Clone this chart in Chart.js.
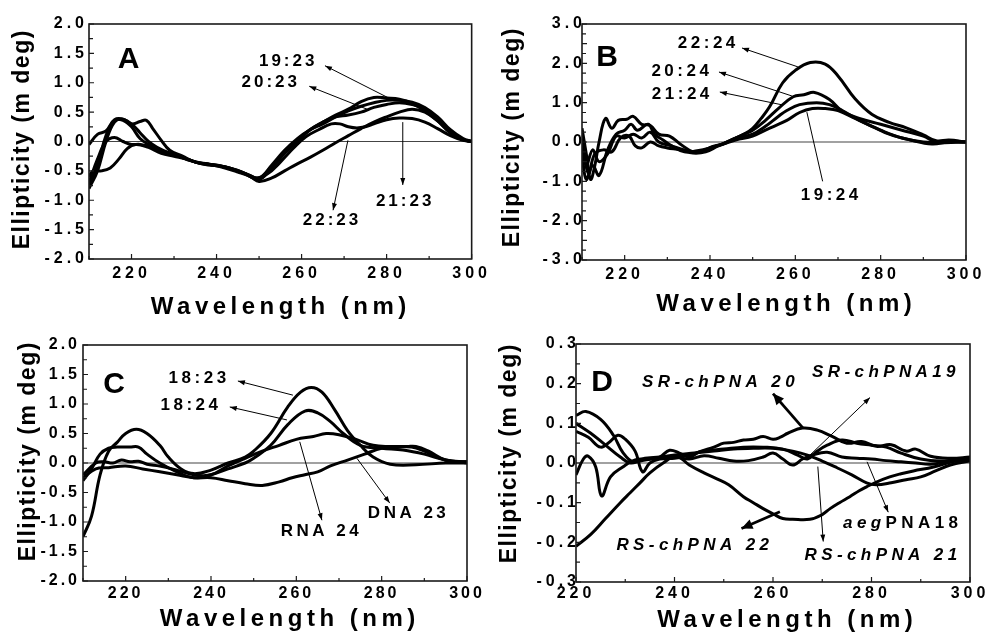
<!DOCTYPE html>
<html>
<head>
<meta charset="utf-8">
<script src="https://cdn.jsdelivr.net/npm/chart.js@4.4.0/dist/chart.umd.min.js"></script>
<style>
  body { margin: 0; background: #fff; width: 987px; height: 633px; position: relative; overflow: hidden; }
  canvas { position: absolute; }
</style>
</head>
<body>
<canvas id="chartA" width="490" height="324" style="left:0;top:0"></canvas>
<canvas id="chartB" width="497" height="324" style="left:490px;top:0"></canvas>
<canvas id="chartC" width="490" height="315" style="left:0;top:318px"></canvas>
<canvas id="chartD" width="497" height="315" style="left:490px;top:318px"></canvas>
<script>
const FONT = "'Liberation Sans', Arial, Helvetica, sans-serif";

// ---- panel A : x:23 duplexes ----
const wlA1 = [210,212,214,216,218,220,222,223.5,225,227,229,232,235,238,241,244,247,250,253,256,259,262,265,268,271,274,277,280,283,286,289,292,295,298,300];
const cdA1 = [-0.8,-0.5,0.0,0.33,0.38,0.3,0.34,0.36,0.22,0.02,-0.15,-0.25,-0.35,-0.38,-0.42,-0.48,-0.56,-0.65,-0.45,-0.2,0.03,0.2,0.33,0.45,0.55,0.68,0.75,0.74,0.72,0.65,0.52,0.35,0.15,0.03,0];
const wlA2 = [210,212,214,216,218,220,222,224,226,229,232,235,238,241,244,247,250,253,256,259,262,265,268,271,274,277,280,283,286,289,292,295,298,300];
const cdA2 = [-0.05,0.12,0.18,0.37,0.38,0.3,0.15,0.0,-0.1,-0.2,-0.27,-0.35,-0.4,-0.42,-0.47,-0.55,-0.62,-0.42,-0.2,0.0,0.2,0.33,0.42,0.45,0.5,0.58,0.63,0.66,0.63,0.55,0.38,0.15,0.03,0];
const wlA3 = [210,212,214,216,218,220,222,225,228,231,234,237,240,243,246,249,252,255,258,261,264,267,269,271,273,275,277,280,283,286,289,292,295,298,300];
const cdA3 = [-0.7,-0.3,0.0,0.07,0.0,-0.05,-0.05,-0.1,-0.2,-0.25,-0.33,-0.38,-0.4,-0.45,-0.52,-0.62,-0.55,-0.35,-0.12,0.08,0.2,0.3,0.3,0.25,0.23,0.25,0.3,0.37,0.4,0.39,0.33,0.22,0.1,0.02,0];
const wlA4 = [210,211,213,215,217,219,221,224,227,230,233,236,239,242,245,248,250,253,256,259,262,265,268,271,274,277,280,283,286,289,292,295,298,300];
const cdA4 = [-0.6,-0.5,-0.5,-0.45,-0.3,-0.12,-0.05,-0.1,-0.2,-0.25,-0.3,-0.37,-0.4,-0.45,-0.52,-0.6,-0.68,-0.62,-0.5,-0.38,-0.27,-0.15,-0.02,0.1,0.22,0.33,0.42,0.5,0.55,0.5,0.35,0.15,0.03,0];
const wlA5 = [210,212,214,216,218,220,222,224,227,230,233,236,239,242,245,248,250,253,256,259,262,265,268,271,274,277,280,283,286,289,292,295,298,300];
const cdA5 = [-0.75,-0.4,0.1,0.36,0.36,0.25,0.05,-0.05,-0.15,-0.22,-0.3,-0.36,-0.4,-0.43,-0.5,-0.58,-0.63,-0.4,-0.15,0.05,0.2,0.3,0.42,0.52,0.6,0.66,0.7,0.7,0.67,0.58,0.42,0.2,0.05,0];

// ---- panel B : x:24 duplexes ----
const wlB1 = [210,211,212,213,214,215.5,217,218.5,220.5,222,224,226,228,230.5,233,236,238,240.5,243,245,248,250,252,254,257,260,263.5,267,270,274,278,282,286,290,293,296,300];
const cdB1 = [0.35,-0.3,-0.95,-0.6,0.0,0.6,0.35,0.55,0.58,0.65,0.45,0.42,0.2,0.15,-0.05,-0.25,-0.25,-0.12,-0.05,0.05,0.2,0.35,0.6,0.9,1.5,1.82,2.02,1.98,1.68,1.1,0.7,0.5,0.36,0.18,0.03,0.05,0];
const wlB2 = [210,211,212.5,214,216,218,220,221.5,223,225.5,227,229,231,234,237,240,243,245,248,250,253,256,259.5,262,264.5,268,271,275,280,285,290,293,296,300];
const cdB2 = [-0.3,-0.95,-0.6,-0.85,-0.2,0.2,0.3,0.45,0.3,0.45,0.2,0.05,-0.1,-0.25,-0.22,-0.15,-0.05,0.05,0.2,0.3,0.55,0.85,1.15,1.2,1.26,1.08,0.78,0.6,0.45,0.3,0.15,0.0,0.03,0];
const wlB3 = [210,211,212.5,214,216,218,220,222,224,226,228,231,234,237,240,243,246,250,253,256,258,261,265,268,271,275,280,285,290,295,300];
const cdB3 = [0.0,-0.6,-0.2,-0.5,-0.3,0.15,0.1,0.2,0.1,0.25,0.0,-0.1,-0.2,-0.25,-0.15,-0.05,0.1,0.2,0.4,0.65,0.8,0.95,1.0,0.95,0.8,0.55,0.3,0.1,0.0,-0.02,0];
const wlB4 = [210,211.5,213,215,217,219,221,222.5,224,226,228,230,233,236,239,242,246,250,253,255,258,261,264,267,270,274,278,282,287,292,296,300];
const cdB4 = [0.1,-0.8,-0.3,-0.2,-0.25,0.1,0.15,-0.1,-0.15,0.0,-0.1,-0.15,-0.2,-0.28,-0.25,-0.1,0.05,0.15,0.3,0.4,0.55,0.75,0.85,0.85,0.8,0.6,0.4,0.2,0.05,-0.05,0.0,0];

// ---- panel C : 18-mer and DNA/RNA ----
const wlC1 = [210,212,214,216,218,220,222.5,225,228,230,233,236,240,244,248,250,254,258,261,263.5,266,269,272,275,278,282,288,295,300];
const cdC1 = [-1.25,-0.9,-0.2,0.2,0.35,0.5,0.57,0.5,0.3,0.1,-0.1,-0.18,-0.12,0.0,0.1,0.2,0.5,0.95,1.2,1.28,1.2,0.9,0.55,0.3,0.1,-0.02,-0.03,0.0,0];
const wlC2 = [210,212,214,216,218,221,223,225,228,232,236,240,244,248,250,254,258,262,265,268,271,275,280,285,290,295,300];
const cdC2 = [-0.3,-0.1,0.15,0.25,0.27,0.27,0.27,0.15,0.0,-0.15,-0.25,-0.2,-0.1,0.0,0.08,0.3,0.65,0.88,0.85,0.7,0.5,0.3,0.25,0.22,0.15,0.05,0];
const wlC3 = [210,213,215,217,219,221,223,225,228,232,236,240,244,248,252,256,260,264,267,270,274,278,282,286,288,291,295,300];
const cdC3 = [-0.2,0.0,0.02,0.0,0.05,0.02,0.03,-0.02,-0.05,-0.12,-0.2,-0.2,-0.05,0.08,0.2,0.3,0.4,0.45,0.5,0.48,0.4,0.3,0.28,0.28,0.28,0.2,0.05,0.02];
const wlC4 = [210,213,216,220,224,228,232,236,240,244,248,252,256,259,262,265,268,272,276,280,284,287,290,293,296,300];
const cdC4 = [-0.25,-0.1,-0.08,-0.05,-0.1,-0.15,-0.2,-0.25,-0.25,-0.3,-0.35,-0.38,-0.32,-0.25,-0.2,-0.15,-0.05,0.05,0.15,0.25,0.27,0.27,0.2,0.1,0.03,0.02];

// ---- panel D : chiral PNAs ----
const wlD1 = [220,221.5,222.5,224,225.2,227,229.5,232,235,237,239,241,243,245,248,250,252,254,256,258,260,261.5,263,266,269,272,275,278,281,284,287,289,292,296,300];
const cdD1 = [-0.03,0.01,0.017,-0.01,-0.083,-0.035,-0.01,0.008,0.01,0.015,0.032,0.025,0.015,0.028,0.04,0.05,0.052,0.058,0.06,0.067,0.06,0.065,0.075,0.088,0.083,0.067,0.05,0.054,0.042,0.046,0.03,0.035,0.017,0.012,0.015];
const wlD2 = [220,222.5,225,227,228.5,230,232,233.5,235,237,240,243,246,250,254,258,262,265,267,269,271,274,277,280,283,286,290,294,300];
const cdD2 = [0.08,0.065,0.04,0.055,0.07,0.06,0.03,-0.022,0.0,0.01,0.012,0.02,0.03,0.035,0.04,0.04,0.035,0.02,0.01,0.03,0.045,0.058,0.05,0.045,0.04,0.025,0.01,0.005,0.012];
const wlD3 = [220,222,225,227.6,229.6,231.6,234,237,240,243,246,249,252,255,258,260,262,264,266,268,271,274,277,280,283,286,289,292,296,300];
const cdD3 = [0.12,0.13,0.11,0.07,0.025,0.003,0.012,0.015,0.015,0.01,0.018,0.012,0.005,0.006,0.015,0.025,0.01,-0.005,0.01,0.02,0.027,0.015,0.012,0.01,0.006,0.003,0.0,-0.003,0.004,0.008];
const wlD4 = [220,223,226,229,231,233,235,237.7,240.4,243,246,248.6,251,254,256,258,260,262,264,267.5,270,271.6,273.5,275.6,277.5,279,281,283.7,286,288.5,292.6,297,300];
const cdD4 = [-0.21,-0.18,-0.14,-0.1,-0.075,-0.05,-0.025,0.0,0.017,-0.005,-0.025,-0.04,-0.055,-0.085,-0.1,-0.115,-0.128,-0.14,-0.142,-0.142,-0.13,-0.115,-0.1,-0.085,-0.07,-0.06,-0.048,-0.035,-0.027,-0.02,-0.01,0.005,0.01];
const wlD5 = [220,223,226,229,231,233,236,240,244,248,252,256,260,264,267,270,273,276,279,281,284,287,290,293,296,300];
const cdD5 = [0.1,0.075,0.045,0.015,0.0,0.005,0.012,0.02,0.025,0.03,0.035,0.037,0.037,0.03,0.02,0.005,-0.012,-0.03,-0.05,-0.055,-0.05,-0.042,-0.035,-0.02,-0.005,0.005];

// labels with leader arrows (data coordinates); the arrow head sits at "from"
const notesA = [
  { text: 'A', x: 219.3, y: 1.4, size: 30, ls: 0 },
  { text: '19:23', x: 256.5, y: 1.37, from: [265.5, 1.29], to: [280.5, 0.74] },
  { text: '20:23', x: 252.4, y: 1.0, from: [261.8, 0.94], to: [275.4, 0.55] },
  { text: '22:23', x: 266.8, y: -1.34, from: [267.4, -1.17], to: [270.9, 0.02] },
  { text: '21:23', x: 284, y: -1.02, from: [283.8, -0.74], to: [283.8, 0.33] }
];
const notesB = [
  { text: 'B', x: 215.9, y: 2.14, size: 30, ls: 0 },
  { text: '22:24', x: 239.2, y: 2.5, from: [247.5, 2.39], to: [260.6, 1.91] },
  { text: '20:24', x: 233, y: 1.79, from: [242.1, 1.78], to: [259.2, 1.17] },
  { text: '21:24', x: 233.1, y: 1.22, from: [242.3, 1.27], to: [257.1, 0.94] },
  { text: '19:24', x: 268, y: -1.35, from: [266.4, -1.0], to: [262.7, 0.76], head: false }
];
const notesC = [
  { text: 'C', x: 217.3, y: 1.32, size: 30, ls: 0 },
  { text: '18:23', x: 236.8, y: 1.43, from: [246.3, 1.39], to: [259.2, 1.15] },
  { text: '18:24', x: 234.9, y: 0.97, from: [244.4, 0.95], to: [257.8, 0.73] },
  { text: 'DNA 23', x: 285.9, y: -0.86, from: [281.9, -0.68], to: [274.2, 0.08] },
  { text: 'RNA 24', x: 265.5, y: -1.16, from: [266, -0.97], to: [260.8, 0.36] }
];
const notesD = [
  { text: 'D', x: 225.3, y: 0.203, size: 30, ls: 0, upright: true },
  { text: 'SR-chPNA 20', x: 248.9, y: 0.203, from: [260, 0.175], to: [266.1, 0.088], thick: true },
  { text: 'SR-chPNA19', x: 282.5, y: 0.228, from: [279.7, 0.165], to: [267.1, 0.015] },
  { parts: [['aeg', true], ['PNA18', false]], x: 285.9, y: -0.152, from: [283.4, -0.124], to: [279.1, 0.003] },
  { text: 'RS-chPNA 22', x: 243.7, y: -0.207, from: [253.6, -0.165], to: [261.4, -0.123], thick: true },
  { text: 'RS-chPNA 21', x: 281.9, y: -0.232, from: [270.2, -0.198], to: [269.1, -0.009] }
];

const panels = [
  { id: 'chartA', xMin: 210, xMax: 300, yMin: -2, yMax: 2, yStep: 0.5,
    series: [[wlA1, cdA1], [wlA2, cdA2], [wlA3, cdA3], [wlA4, cdA4], [wlA5, cdA5]], notes: notesA,
    box: { left: 89, top: 24, right: 17, bottom: 65 }, yPad: 1, xPad: 5, tickLs: 4,
    xTitle: [278.5, 314], yTitle: [23, 140], noteLs: 3, italic: false },
  { id: 'chartB', xMin: 210, xMax: 300, yMin: -3, yMax: 3, yStep: 0.5,
    series: [[wlB1, cdB1], [wlB2, cdB2], [wlB3, cdB3], [wlB4, cdB4]], notes: notesB,
    box: { left: 92, top: 24, right: 21, bottom: 64 }, yPad: -4, xPad: 5, tickLs: 4,
    xTitle: [294, 311], yTitle: [23, 138], noteLs: 3.5, italic: false },
  { id: 'chartC', xMin: 210, xMax: 300, yMin: -2, yMax: 2, yStep: 0.5,
    series: [[wlC1, cdC1], [wlC2, cdC2], [wlC3, cdC3], [wlC4, cdC4]], notes: notesC,
    box: { left: 83, top: 27, right: 23, bottom: 52 }, yPad: 3, xPad: 3, tickLs: 3,
    xTitle: [287.5, 308], yTitle: [29, 134], noteLs: 3.5, italic: false },
  { id: 'chartD', xMin: 220, xMax: 300, yMin: -0.3, yMax: 0.3, yStep: 0.1,
    series: [[wlD1, cdD1], [wlD2, cdD2], [wlD3, cdD3], [wlD4, cdD4], [wlD5, cdD5]], notes: notesD,
    box: { left: 86, top: 26, right: 17, bottom: 51 }, yPad: -4, xPad: 2, tickLs: 4,
    xTitle: [295, 309], yTitle: [20, 136], noteLs: 4.4, italic: true }
];

function drawNote(ctx, xs, ys, n, p) {
  ctx.strokeStyle = '#000';
  ctx.fillStyle = '#000';
  if (n.from) {
    const x1 = xs.getPixelForValue(n.from[0]), y1 = ys.getPixelForValue(n.from[1]);
    const x2 = xs.getPixelForValue(n.to[0]), y2 = ys.getPixelForValue(n.to[1]);
    ctx.lineWidth = n.thick ? 2.8 : 1;
    ctx.beginPath(); ctx.moveTo(x1, y1); ctx.lineTo(x2, y2); ctx.stroke();
    if (n.head !== false) {
      const ang = Math.atan2(y2 - y1, x2 - x1);
      const L = n.thick ? 11 : 7, W = n.thick ? 5 : 2.5;
      const bx = x1 + L * Math.cos(ang), by = y1 + L * Math.sin(ang);
      ctx.beginPath();
      ctx.moveTo(x1, y1);
      ctx.lineTo(bx - W * Math.sin(ang), by + W * Math.cos(ang));
      ctx.lineTo(bx + W * Math.sin(ang), by - W * Math.cos(ang));
      ctx.closePath(); ctx.fill();
    }
  }
  const size = n.size || 17;
  const ls = n.ls !== undefined ? n.ls : p.noteLs;
  const italicDefault = p.italic && !n.upright && !n.size;
  const parts = n.parts || [[n.text, italicDefault]];
  ctx.letterSpacing = ls + 'px';
  ctx.textBaseline = 'middle';
  ctx.textAlign = 'left';
  let total = 0;
  const widths = parts.map(([t, it]) => {
    ctx.font = (it ? 'italic ' : '') + 'bold ' + size + 'px ' + FONT;
    const w = ctx.measureText(t).width;
    total += w;
    return w;
  });
  let cx = xs.getPixelForValue(n.x) - (total - ls) / 2;
  const cy = ys.getPixelForValue(n.y);
  parts.forEach(([t, it], i) => {
    ctx.font = (it ? 'italic ' : '') + 'bold ' + size + 'px ' + FONT;
    ctx.fillText(t, cx, cy);
    cx += widths[i];
  });
}

function makePanelPlugin(p) {
  return {
    id: 'panelDecor',
    beforeDraw(chart) {
      chart.ctx.letterSpacing = p.tickLs + 'px';
    },
    afterDraw(chart) {
      const ctx = chart.ctx, a = chart.chartArea;
      const xs = chart.scales.x, ys = chart.scales.y;
      ctx.save();
      ctx.letterSpacing = '0px';
      ctx.strokeStyle = '#1a1a1a';
      ctx.lineWidth = 1.2;
      ctx.beginPath();
      const nx = Math.round((p.xMax - p.xMin) / 10);
      for (let k = 0; k <= nx; k++) {
        const v = p.xMin + k * 10, px = xs.getPixelForValue(v);
        const len = v % 20 === 0 ? 5 : 3;
        ctx.moveTo(px, a.bottom); ctx.lineTo(px, a.bottom - len);
      }
      const half = p.yStep / 2, ny = Math.round((p.yMax - p.yMin) / half);
      for (let k = 0; k <= ny; k++) {
        const py = ys.getPixelForValue(p.yMin + k * half);
        ctx.moveTo(a.left, py); ctx.lineTo(a.left + (k % 2 === 0 ? 5 : 4), py);
      }
      ctx.stroke();
      ctx.lineWidth = 1.6;
      ctx.strokeRect(a.left, a.top, a.right - a.left, a.bottom - a.top);

      // axis titles
      ctx.fillStyle = '#000';
      ctx.font = 'bold 24px ' + FONT;
      ctx.letterSpacing = '4.5px';
      ctx.textAlign = 'center';
      ctx.textBaseline = 'alphabetic';
      ctx.fillText('Wavelength (nm)', p.xTitle[0] + 2.25, p.xTitle[1]);
      ctx.save();
      ctx.translate(p.yTitle[0], p.yTitle[1]);
      ctx.rotate(-Math.PI / 2);
      ctx.font = 'bold 23px ' + FONT;
      ctx.letterSpacing = '1.5px';
      ctx.textBaseline = 'middle';
      ctx.fillText('Ellipticity (m deg)', 0.75, 0);
      ctx.restore();

      p.notes.forEach(n => drawNote(ctx, xs, ys, n, p));
      ctx.restore();
    }
  };
}

const tickFont = { family: FONT, size: 16, weight: 'bold' };

panels.forEach(p => {
  const datasets = p.series.map(([wl, cd]) => ({
    data: wl.map((x, i) => ({ x: x, y: cd[i] })),
    borderColor: '#000',
    borderWidth: 3,
    pointRadius: 0,
    tension: 0.4,
    fill: false
  }));
  datasets.push({
    data: [{ x: p.xMin, y: 0 }, { x: p.xMax, y: 0 }],
    borderColor: '#444',
    borderWidth: 1.2,
    pointRadius: 0,
    fill: false
  });

  new Chart(document.getElementById(p.id), {
    type: 'line',
    data: { datasets },
    options: {
      responsive: false,
      animation: false,
      layout: { padding: { left: 0, top: p.box.top, right: p.box.right, bottom: 0 } },
      plugins: { legend: { display: false }, tooltip: { enabled: false } },
      scales: {
        x: {
          type: 'linear', min: p.xMin, max: p.xMax,
          afterFit: s => { s.height = p.box.bottom; },
          grid: { display: false, drawTicks: false, tickLength: 0 },
          border: { display: false },
          ticks: { stepSize: 20, includeBounds: false, maxRotation: 0, autoSkip: false,
                   padding: p.xPad, color: '#000', font: tickFont, callback: v => String(v) }
        },
        y: {
          type: 'linear', min: p.yMin, max: p.yMax,
          afterFit: s => { s.width = p.box.left; },
          grid: { display: false, drawTicks: false, tickLength: 0 },
          border: { display: false },
          ticks: { stepSize: p.yStep, padding: p.yPad, color: '#000', font: tickFont,
                   callback: v => (Math.abs(v) < 1e-9 ? 0 : v).toFixed(1) }
        }
      }
    },
    plugins: [makePanelPlugin(p)]
  });
});
</script>
</body>
</html>
